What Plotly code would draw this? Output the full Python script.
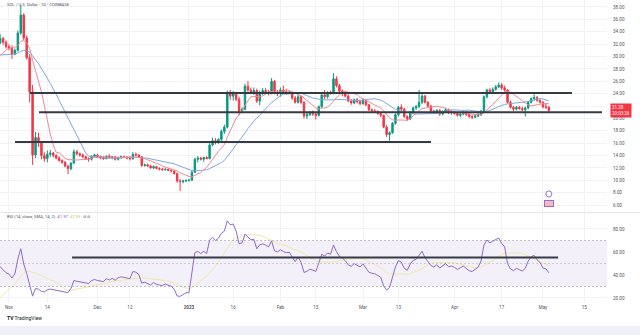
import pandas as pd
import plotly.graph_objects as go

# ---- daily SOL/USD candles, 2022-10-10 .. 2023-05-03 ----
start_date = "2022-10-10"

open_ = [
    # Oct 10 - Oct 31
    33.0, 31.6, 30.7, 30.9, 30.6, 30.3, 30.1, 30.8, 31.0, 29.9, 28.7, 28.5, 28.1, 28.4, 28.8, 29.0,
    30.8, 31.6, 30.2, 32.2, 32.9, 32.3,
    # Nov
    31.6, 31.3, 30.4, 31.0, 33.8, 36.7, 33.0, 29.8, 24.3, 14.1, 16.9, 16.1, 14.0, 13.5, 14.2, 14.4,
    14.0, 13.6, 13.2, 12.9, 12.3, 11.9, 12.8, 14.6, 14.3, 14.1, 13.8, 13.5, 13.4, 13.9,
    # Dec
    14.1, 13.8, 13.7, 13.5, 13.9, 13.6, 13.8, 13.4, 13.7, 13.8, 13.7, 13.6, 13.5, 14.2, 14.1, 13.8,
    12.4, 12.5, 12.3, 12.0, 12.2, 11.9, 11.8, 11.7, 11.8, 11.6, 11.5, 11.1, 9.9, 9.8, 9.9,
    # Jan
    10.0, 10.0, 11.3, 13.4, 13.6, 13.4, 13.7, 13.5, 15.7, 16.4, 16.1, 16.6, 17.9, 18.6, 24.1, 23.6,
    24.0, 23.1, 21.2, 21.5, 25.2, 24.6, 24.2, 24.5, 22.8, 24.2, 24.5, 24.3, 24.0, 26.0, 24.2,
    # Feb
    24.0, 24.6, 24.3, 24.1, 24.2, 23.3, 22.6, 23.5, 22.6, 20.4, 20.6, 21.0, 20.7, 20.5, 21.9, 23.8,
    23.5, 24.2, 24.0, 26.4, 25.3, 24.4, 24.1, 23.6, 22.8, 22.5, 23.0, 22.7,
    # Mar
    22.4, 22.9, 22.2, 21.4, 21.2, 21.1, 20.8, 20.5, 18.6, 17.4, 17.7, 19.2, 20.6, 21.8, 21.5, 20.3,
    19.9, 21.0, 21.7, 21.9, 22.6, 23.6, 22.6, 22.0, 21.2, 20.9, 21.3, 20.7, 21.1, 21.4, 20.9,
    # Apr
    21.0, 20.8, 20.5, 20.7, 20.9, 20.6, 20.3, 20.2, 20.4, 20.6, 21.2, 23.5, 24.6, 24.3, 24.7, 25.1,
    25.4, 24.9, 24.6, 22.6, 21.8, 21.5, 21.8, 21.6, 21.4, 21.7, 22.6, 23.2, 23.4, 22.9,
    # May
    22.6, 21.9, 21.8,
]

high_ = [
    33.3, 31.9, 31.2, 31.2, 31.6, 30.6, 31.0, 31.4, 31.3, 30.0, 29.4, 28.7, 28.6, 29.0, 29.4, 31.2,
    32.2, 31.9, 32.4, 33.6, 33.2, 32.6,
    32.0, 31.8, 31.3, 34.2, 38.3, 37.0, 33.4, 30.4, 25.4, 17.8, 17.7, 16.3, 14.5, 14.8, 14.9, 14.6,
    14.2, 13.9, 13.4, 13.1, 12.5, 12.9, 15.0, 14.9, 14.5, 14.3, 14.0, 13.7, 14.0, 14.3,
    14.3, 14.0, 13.9, 14.0, 14.2, 13.9, 13.9, 13.8, 14.0, 14.0, 13.9, 13.8, 14.6, 14.5, 14.2, 13.9,
    12.7, 12.7, 12.5, 12.4, 12.3, 12.1, 12.0, 11.9, 11.9, 11.8, 11.6, 11.2, 10.2, 10.1, 10.1,
    10.2, 11.6, 13.6, 13.9, 13.8, 13.8, 13.9, 16.0, 16.9, 16.8, 16.8, 18.2, 19.0, 24.5, 24.6, 24.4,
    24.3, 23.5, 21.8, 25.6, 26.0, 25.0, 25.0, 24.8, 24.5, 24.9, 24.9, 24.6, 26.5, 26.2, 24.6,
    25.0, 25.3, 24.8, 24.6, 24.3, 23.6, 23.9, 23.7, 22.8, 20.9, 21.2, 21.3, 20.9, 22.1, 23.9, 24.6,
    24.4, 24.5, 27.3, 26.8, 25.6, 24.7, 24.4, 23.9, 23.1, 23.2, 23.3, 23.0,
    23.3, 23.0, 22.3, 21.6, 21.5, 21.3, 21.0, 20.6, 18.9, 17.9, 19.4, 20.8, 22.0, 22.3, 21.7, 20.5,
    21.2, 21.9, 22.2, 24.6, 23.9, 23.8, 22.8, 22.2, 21.4, 21.5, 21.5, 21.3, 21.7, 21.6, 21.3,
    21.2, 21.0, 21.0, 21.2, 21.1, 20.8, 20.5, 20.6, 20.9, 21.4, 23.7, 24.8, 24.9, 25.0, 25.4, 25.8,
    25.7, 25.3, 24.7, 22.9, 22.0, 22.0, 22.0, 21.9, 21.9, 22.8, 23.4, 23.9, 23.6, 23.1,
    22.8, 22.4, 22.0,
]

low_ = [
    31.4, 30.4, 30.4, 28.6, 30.0, 29.8, 30.0, 30.5, 29.6, 28.5, 28.2, 27.2, 27.9, 28.0, 28.2, 28.8,
    30.4, 29.8, 29.8, 32.0, 31.9, 31.3,
    31.0, 29.6, 30.2, 30.8, 33.5, 32.6, 29.5, 22.6, 12.5, 13.6, 15.4, 13.4, 13.0, 12.9, 13.8, 13.7,
    13.4, 13.0, 12.7, 12.1, 11.0, 11.6, 12.6, 14.0, 13.8, 13.6, 13.3, 13.0, 13.2, 13.7,
    13.6, 13.4, 13.3, 13.4, 13.5, 13.4, 13.2, 13.2, 13.5, 13.6, 13.4, 13.2, 13.3, 13.9, 13.6, 12.2,
    12.2, 12.2, 11.9, 11.8, 11.8, 11.6, 11.6, 11.6, 11.5, 11.3, 10.9, 9.6, 8.3, 9.5, 9.7,
    9.8, 9.9, 11.2, 12.9, 13.2, 13.0, 13.4, 13.4, 15.5, 15.8, 15.9, 16.3, 17.5, 18.4, 23.0, 22.9,
    22.8, 20.5, 20.9, 21.3, 24.3, 23.9, 23.8, 22.5, 22.1, 23.8, 23.9, 23.7, 23.9, 23.9, 23.6,
    23.5, 24.0, 23.8, 23.9, 23.0, 22.4, 22.4, 22.3, 20.0, 19.9, 20.4, 20.4, 19.8, 20.3, 21.7, 23.1,
    23.2, 23.8, 23.9, 25.0, 24.1, 23.6, 23.4, 22.6, 22.2, 22.3, 22.4, 22.1,
    22.2, 22.0, 21.2, 21.0, 20.9, 20.6, 20.2, 18.4, 17.0, 16.4, 17.5, 19.0, 20.3, 21.1, 20.1, 19.6,
    19.8, 20.8, 21.4, 21.7, 22.3, 22.4, 21.8, 21.0, 20.7, 20.8, 20.4, 20.5, 21.0, 20.7, 20.6,
    20.6, 20.3, 20.2, 20.5, 20.4, 20.1, 19.9, 20.0, 20.2, 20.4, 21.0, 23.2, 24.0, 24.1, 24.5, 24.9,
    24.6, 24.3, 22.4, 21.6, 21.2, 21.3, 21.4, 21.1, 20.3, 21.5, 22.4, 22.9, 22.7, 22.4,
    21.6, 21.5, 21.1,
]

close_ = [
    31.6, 30.7, 30.9, 30.6, 30.3, 30.1, 30.8, 31.0, 29.9, 28.7, 28.5, 28.1, 28.4, 28.8, 29.0, 30.8,
    31.6, 30.2, 32.2, 32.9, 32.3, 31.6,
    31.3, 30.4, 31.0, 33.8, 36.7, 33.0, 29.8, 24.3, 14.1, 16.9, 16.1, 14.0, 13.5, 14.2, 14.4, 14.0,
    13.6, 13.2, 12.9, 12.3, 11.9, 12.8, 14.6, 14.3, 14.1, 13.8, 13.5, 13.4, 13.9, 14.1,
    13.8, 13.7, 13.5, 13.9, 13.6, 13.8, 13.4, 13.7, 13.8, 13.7, 13.6, 13.5, 14.2, 14.1, 13.8, 12.4,
    12.5, 12.3, 12.0, 12.2, 11.9, 11.8, 11.7, 11.8, 11.6, 11.5, 11.1, 9.9, 9.8, 9.9, 10.0,
    10.0, 11.3, 13.4, 13.6, 13.4, 13.7, 13.5, 15.7, 16.4, 16.1, 16.6, 17.9, 18.6, 24.1, 23.6, 24.0,
    23.1, 21.2, 21.5, 25.2, 24.6, 24.2, 24.5, 22.8, 24.2, 24.5, 24.3, 24.0, 26.0, 24.2, 24.0,
    24.6, 24.3, 24.1, 24.2, 23.3, 22.6, 23.5, 22.6, 20.4, 20.6, 21.0, 20.7, 20.5, 21.9, 23.8, 23.5,
    24.2, 24.0, 26.4, 25.3, 24.4, 24.1, 23.6, 22.8, 22.5, 23.0, 22.7, 22.4,
    22.9, 22.2, 21.4, 21.2, 21.1, 20.8, 20.5, 18.6, 17.4, 17.7, 19.2, 20.6, 21.8, 21.5, 20.3, 19.9,
    21.0, 21.7, 21.9, 22.6, 23.6, 22.6, 22.0, 21.2, 20.9, 21.3, 20.7, 21.1, 21.4, 20.9, 21.0,
    20.8, 20.5, 20.7, 20.9, 20.6, 20.3, 20.2, 20.4, 20.6, 21.2, 23.5, 24.6, 24.3, 24.7, 25.1, 25.4,
    24.9, 24.6, 22.6, 21.8, 21.5, 21.8, 21.6, 21.4, 21.7, 22.6, 23.2, 23.4, 22.9, 22.6,
    21.9, 21.8, 21.28,
]

# drawn trend levels: (start, end, price)
price_levels = [
    ("2022-11-08 03:00", "2023-05-10 20:00", 24.1),
    ("2022-11-11 04:00", "2023-05-21 00:00", 21.0),
    ("2022-11-03 01:00", "2023-03-24 01:00", 16.2),
]
rsi_level = ("2022-11-22 09:00", "2023-05-06 03:00", 55.2)

date_ticks = ["2022-11-01", "2022-11-14", "2022-12-01", "2022-12-12", "2023-01-01", "2023-01-16",
              "2023-02-01", "2023-02-13", "2023-03-01", "2023-03-13", "2023-04-01", "2023-04-17",
              "2023-05-01", "2023-05-15"]
date_labels = ["Nov", "14", "Dec", "12", "<b>2023</b>", "16", "Feb", "13", "Mar", "13", "Apr",
               "17", "May", "15"]
price_ticks = [6, 8, 10, 12, 14, 16, 18, 20, 22, 24, 26, 28, 30, 32, 34, 36, 38]
rsi_ticks = [20, 40, 60, 80]

GREEN = "#089981"
RED = "#f23645"
PURPLE = "#7e57c2"
TXT = "#50535e"
GRID = "#f0f2f6"

dates = pd.date_range(start_date, periods=len(close_), freq="D")
close_s = pd.Series(close_, index=dates)

# moving averages on the price pane
sma_fast = close_s.rolling(9).mean()
sma_slow = close_s.rolling(20).mean()

# RSI(14) with Wilder smoothing and its 14-period SMA
delta = close_s.diff()
gain = delta.clip(lower=0)
loss = -delta.clip(upper=0)
avg_gain = gain.ewm(alpha=1 / 14, adjust=False).mean()
avg_loss = loss.ewm(alpha=1 / 14, adjust=False).mean()
rsi = 100 - 100 / (1 + avg_gain / avg_loss)
rsi_ma = rsi.rolling(14).mean()

fig = go.Figure()
fig.add_trace(go.Candlestick(
    x=dates, open=open_, high=high_, low=low_, close=close_,
    xaxis="x", yaxis="y", whiskerwidth=0, hoverinfo="skip", showlegend=False,
    increasing=dict(line=dict(color=GREEN, width=1), fillcolor=GREEN),
    decreasing=dict(line=dict(color=RED, width=1), fillcolor=RED),
))
fig.add_trace(go.Scatter(x=dates, y=sma_slow, mode="lines", yaxis="y",
                         line=dict(color="#7ea7dd", width=1), showlegend=False))
fig.add_trace(go.Scatter(x=dates, y=sma_fast, mode="lines", yaxis="y",
                         line=dict(color="#f08a92", width=1), showlegend=False))
fig.add_trace(go.Scatter(x=dates, y=rsi_ma, mode="lines", yaxis="y2",
                         line=dict(color="#f1e8a6", width=1), showlegend=False))
fig.add_trace(go.Scatter(x=dates, y=rsi, mode="lines", yaxis="y2",
                         line=dict(color="#8c6bc9", width=1), showlegend=False))
# event markers at the bottom of the price pane
fig.add_trace(go.Scatter(x=[dates[-1]], y=[7.8], mode="markers", yaxis="y",
                         marker=dict(symbol="circle", size=6, color="#ffffff",
                                     line=dict(color="#9575cd", width=1)),
                         showlegend=False, hoverinfo="skip"))

shapes = []
for x0, x1, lvl in price_levels:
    shapes.append(dict(type="line", xref="x", yref="y", x0=x0, x1=x1, y0=lvl, y1=lvl,
                       line=dict(color="#363a45", width=2)))
shapes.append(dict(type="rect", xref="x domain", yref="y2", x0=0, x1=1, y0=30, y1=70,
                   fillcolor="rgba(126,87,194,0.09)", line=dict(width=0), layer="below"))
for lvl, col in [(70, "rgba(120,123,134,0.45)"), (30, "rgba(120,123,134,0.45)"),
                 (50, "rgba(120,123,134,0.3)")]:
    shapes.append(dict(type="line", xref="x domain", yref="y2", x0=0, x1=1, y0=lvl, y1=lvl,
                       line=dict(color=col, width=1, dash="2px,2px")))
shapes.append(dict(type="line", xref="x", yref="y2", x0=rsi_level[0], x1=rsi_level[1],
                   y0=rsi_level[2], y1=rsi_level[2], line=dict(color="#363a45", width=2)))
# pane separator and page strip beneath the chart
shapes.append(dict(type="line", xref="paper", yref="paper", x0=0, x1=1.06, y0=0.2987, y1=0.2987,
                   line=dict(color="#e3e6ec", width=1)))
shapes.append(dict(type="rect", xref="paper", yref="paper", x0=-0.01, x1=1.06, y0=-0.11, y1=-0.076,
                   fillcolor="#edf1f7", line=dict(width=0)))

annotations = [
    dict(xref="paper", yref="y", x=1, y=close_[-1], xanchor="left", yanchor="middle", xshift=3,
         text=f"{close_[-1]:.2f}<br>20:03:26", showarrow=False, align="left",
         font=dict(size=4.5, color="#ffffff", family="Roboto"), bgcolor=RED, borderpad=1),
    dict(xref="paper", yref="paper", x=0.008, y=0.284, xanchor="left", yanchor="middle",
         showarrow=False, font=dict(size=4.2, color=TXT, family="Roboto"),
         text=(f"RSI (14, close, SMA, 14, 2)  <span style='color:{PURPLE}'>{rsi.iloc[-1]:.2f}</span>"
               f"  <span style='color:#d9c24e'>{rsi_ma.iloc[-1]:.2f}</span>  ⊘ ⊘")),
    dict(xref="paper", yref="paper", x=0.008, y=1.0, xanchor="left", yanchor="top",
         showarrow=False, font=dict(size=4.2, color=TXT, family="Roboto"),
         text="SOL / U.S. Dollar · 1D · COINBASE"),
    dict(xref="paper", yref="paper", x=0.008, y=-0.05, xanchor="left", yanchor="middle",
         showarrow=False, font=dict(size=5, color="#131722", family="Roboto"),
         text="<b>TV</b> TradingView"),
    dict(xref="x", yref="y", x=dates[-1], y=6.2, xanchor="center", yanchor="middle",
         showarrow=False, text="&nbsp;&nbsp;&nbsp;&nbsp;&nbsp;&nbsp;&nbsp;&nbsp;",
         font=dict(size=4), bgcolor="#f6b8c3", bordercolor="#8e6fd1", borderwidth=1, borderpad=0),
]

axis_font = dict(size=4.6, color=TXT, family="Roboto")
fig.update_layout(
    width=640, height=335, autosize=False,
    margin=dict(l=0, r=33, t=0, b=32),
    paper_bgcolor="#ffffff", plot_bgcolor="#ffffff",
    showlegend=False,
    xaxis=dict(anchor="y2", type="date", range=["2022-10-28 22:50", "2023-05-22 17:00"],
               tickmode="array", tickvals=date_ticks, ticktext=date_labels, tickangle=0,
               tickfont=axis_font, showgrid=True, gridcolor=GRID, gridwidth=1,
               showline=False, zeroline=False, rangeslider=dict(visible=False), ticks=""),
    yaxis=dict(domain=[0.3003, 1], range=[4.88, 39.13], side="right", tickmode="array",
               tickvals=price_ticks, ticktext=[f"{v:.2f}" for v in price_ticks],
               tickfont=axis_font, showgrid=True, gridcolor=GRID, zeroline=False,
               showline=False, ticks="", ticklabelstandoff=5),
    yaxis2=dict(domain=[0, 0.297], range=[15.65, 93.9], side="right", tickmode="array",
                tickvals=rsi_ticks, ticktext=[f"{v:.2f}" for v in rsi_ticks],
                tickfont=axis_font, showgrid=True, gridcolor=GRID, zeroline=False,
                showline=False, ticks="", ticklabelstandoff=5),
    shapes=shapes,
    annotations=annotations,
)

fig.write_html("out.html")
